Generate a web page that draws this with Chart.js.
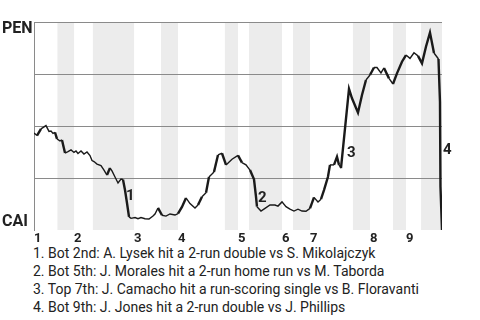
<!DOCTYPE html>
<html><head><meta charset="utf-8">
<script src="https://cdn.jsdelivr.net/npm/chart.js@4.4.0/dist/chart.umd.min.js"></script>
<style>
html,body{margin:0;padding:0;background:#fff;width:480px;height:320px;overflow:hidden;}
#wrap{position:absolute;left:0;top:0;width:480px;height:245px;}
#notes{position:absolute;left:33px;top:245px;font:14px Roboto, sans-serif;color:#222;line-height:17.9px;white-space:nowrap;}
</style></head><body>
<div id="wrap"><canvas id="c" width="480" height="245"></canvas></div>
<div id="notes"></div>
<script>
// ---- data ----
const teams = ['PEN', 'CAI'];               // top (win prob 1) / bottom (win prob 0)
const innings = ['1','2','3','4','5','6','7','8','9'];
const inningStart = [0, 11.3, 28.2, 40.6, 57.5, 69.9, 77.8, 94.7, 104.85];
const bottomHalfStart = [6.6, 16.6, 35.8, 53.8, 60.6, 73.0, 89.9, 101.2, 109.1];
const bottomHalfEnd   = [11.3, 28.2, 40.6, 57.5, 69.9, 77.8, 94.7, 104.85, 115];
const playNo = [0,0.85,1.97,3.38,4.23,4.79,5.36,5.92,6.48,7.33,7.89,8.74,9.58,10.43,11.27,11.84,12.4,13.25,14.09,14.94,
 15.78,16.35,16.91,17.76,18.88,19.73,20.57,21.42,21.98,22.83,23.68,24.52,25.08,25.65,26.21,26.78,27.34,28.47,29.31,30.16,
 31.29,32.41,33.54,34.1,34.95,36.08,37.2,38.33,39.74,40.59,41.71,42.84,43.97,45.38,46.22,47.35,48.48,49.32,50.17,50.73,
 51.86,52.99,54.12,55.81,57.5,58.62,59.75,60.88,62.01,62.57,62.85,63.98,65.11,66.52,67.93,68.77,69.9,71.03,72.15,73.28,
 74.41,75.54,76.66,77.79,78.92,80.05,80.89,81.74,82.86,83.43,84.56,85.4,85.97,86.53,88.79,89.63,91.32,92.45,93.57,94.7,
 95.83,96.67,97.8,98.65,100.06,101.18,102.31,103.72,104.85,105.98,107.1,108.23,109.36,110.48,111.61,112.74,114.01,114.43,114.57,115];
const winProbPEN = [0.466,0.454,0.486,0.502,0.474,0.476,0.464,0.469,0.438,0.428,0.433,0.370,0.377,0.385,0.373,0.380,0.368,0.380,0.365,0.375,
 0.358,0.334,0.329,0.317,0.310,0.288,0.264,0.298,0.284,0.255,0.226,0.245,0.243,0.192,0.130,0.063,0.056,0.060,0.054,0.060,
 0.054,0.053,0.067,0.077,0.106,0.071,0.067,0.077,0.072,0.079,0.111,0.154,0.127,0.106,0.120,0.160,0.179,0.255,0.269,0.279,
 0.361,0.369,0.313,0.340,0.359,0.324,0.313,0.288,0.244,0.160,0.112,0.091,0.104,0.120,0.120,0.115,0.135,0.112,0.100,0.091,
 0.100,0.091,0.090,0.104,0.157,0.135,0.148,0.192,0.256,0.313,0.313,0.352,0.313,0.297,0.678,0.633,0.564,0.649,0.721,0.745,
 0.781,0.781,0.755,0.779,0.729,0.702,0.753,0.809,0.841,0.825,0.852,0.837,0.801,0.881,0.949,0.851,0.822,0.617,0.208,0.0];
const eventIdx = [34, 70, 93, 118];
const eventNotes = [
  '1. Bot 2nd: A. Lysek hit a 2-run double vs S. Mikolajczyk',
  '2. Bot 5th: J. Morales hit a 2-run home run vs M. Taborda',
  '3. Top 7th: J. Camacho hit a run-scoring single vs B. Floravanti',
  '4. Bot 9th: J. Jones hit a 2-run double vs J. Phillips'
];
// label offsets (styling, px)
const eventLabelOffset = [[-1,-6.5],[1,-8],[6,-15],[2.5,-36]];

document.getElementById('notes').innerHTML = eventNotes.map(t => '<div>' + t + '</div>').join('');

const bandsPlugin = {
  id: 'bands',
  beforeDraw(chart) {
    const {ctx, chartArea: a, scales: {x}} = chart;
    ctx.save();
    ctx.fillStyle = '#ececec';
    bottomHalfStart.forEach((s, i) => {
      const x0 = x.getPixelForValue(s), x1 = x.getPixelForValue(bottomHalfEnd[i]);
      ctx.fillRect(x0, a.top, x1 - x0, a.bottom - a.top);
    });
    ctx.restore();
  }
};

const textPlugin = {
  id: 'texts',
  afterDraw(chart) {
    const {ctx, scales: {x, y}} = chart;
    const meta = chart.getDatasetMeta(0);
    ctx.save();
    ctx.fillStyle = '#222';
    ctx.font = 'bold 16px Roboto';
    ctx.textAlign = 'left';
    ctx.textBaseline = 'middle';
    ctx.fillText(teams[0], 2, y.getPixelForValue(1) + 7);
    ctx.fillText(teams[1], 2, y.getPixelForValue(0) - 8);
    ctx.font = 'bold 15px Roboto';
    eventIdx.forEach((idx, i) => {
      const p = meta.data[idx];
      ctx.fillText(String(i + 1), p.x + eventLabelOffset[i][0], p.y + eventLabelOffset[i][1]);
    });
    ctx.restore();
  }
};

new Chart(document.getElementById('c'), {
  type: 'line',
  data: {
    datasets: [{
      data: playNo.map((v, i) => ({x: v, y: winProbPEN[i]})),
      borderColor: '#1a1a1a',
      borderWidth: 1.5,
      pointRadius: 0,
      tension: 0,
      fill: false,
      segment: {
        borderWidth: c => Math.abs(c.p1.parsed.y - c.p0.parsed.y) > 0.03 ? 2.4 : 1.4
      }
    }]
  },
  options: {
    responsive: false,
    animation: false,
    devicePixelRatio: 1,
    layout: {padding: {left: 34, top: 22, right: 38, bottom: 0}},
    plugins: {legend: {display: false}, tooltip: {enabled: false}},
    scales: {
      x: {
        type: 'linear', min: 0, max: 115,
        afterBuildTicks: s => { s.ticks = inningStart.map(v => ({value: v})); },
        afterFit: s => { s.height = 15; },
        ticks: {
          callback: (v, i) => innings[i],
          align: 'start', autoSkip: false, maxRotation: 0, padding: 1,
          color: '#222', font: {family: 'Roboto', size: 13, weight: 'bold'}
        },
        grid: {display: false, drawTicks: false},
        border: {display: false}
      },
      y: {
        min: 0, max: 1,
        afterFit: s => { s.width = 0; },
        ticks: {display: false, stepSize: 0.25},
        grid: {color: c => c.tick && c.tick.value === 0 ? 'rgba(0,0,0,0)' : '#8a8a8a', drawTicks: false, lineWidth: 1},
        border: {display: true, color: '#8a8a8a', width: 1}
      }
    }
  },
  plugins: [bandsPlugin, textPlugin]
});
</script>
</body></html>
